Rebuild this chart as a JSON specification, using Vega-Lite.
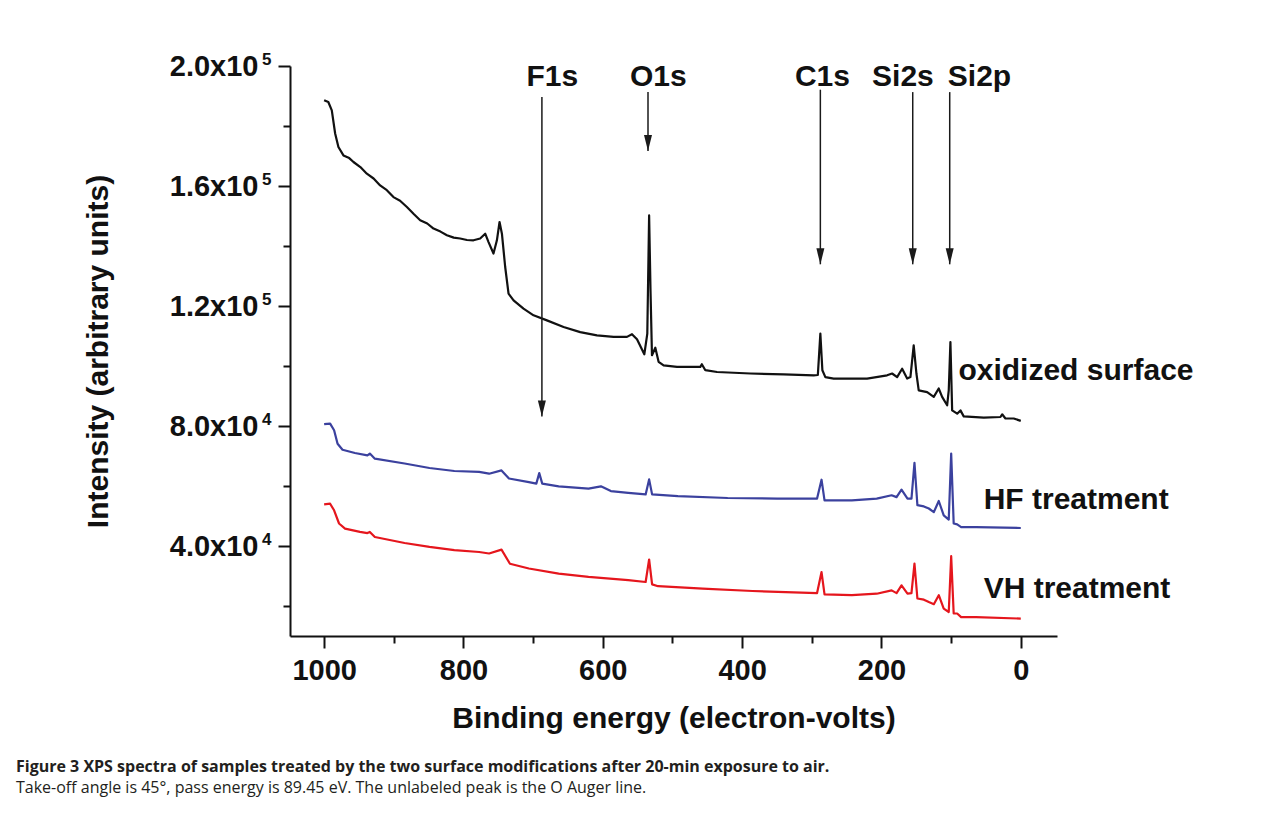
{
  "$schema": "https://vega.github.io/schema/vega-lite/v6.json",
  "width": 767,
  "height": 570,
  "autosize": {"type": "none"},
  "padding": {"left": 290, "top": 66, "right": 225, "bottom": 178},
  "background": "white",
  "config": {"view": {"stroke": null}, "font": "Liberation Sans"},
  "title": {
    "text": "Figure 3 XPS spectra of samples treated by the two surface modifications after 20-min exposure to air.",
    "subtitle": "Take-off angle is 45°, pass energy is 89.45 eV. The unlabeled peak is the O Auger line.",
    "orient": "bottom",
    "anchor": "start",
    "frame": "group",
    "dx": -274,
    "offset": 26,
    "font": "Open Sans",
    "fontSize": 16,
    "fontWeight": "bold",
    "color": "#231f20",
    "subtitleFont": "Open Sans",
    "subtitleFontSize": 16,
    "subtitleFontWeight": "normal",
    "subtitleColor": "#231f20",
    "subtitlePadding": 5
  },
  "datasets": {
    "spectra": [
      {"s":"ox","E":1000,"I":188600},{"s":"ox","E":994,"I":188000},{"s":"ox","E":989,"I":185200},{"s":"ox","E":984.2,"I":177500},{"s":"ox","E":979.5,"I":173000},{"s":"ox","E":972.3,"I":170200},{"s":"ox","E":964,"I":169300},{"s":"ox","E":957.9,"I":168000},{"s":"ox","E":948,"I":166300},{"s":"ox","E":938.7,"I":164100},{"s":"ox","E":929,"I":162500},{"s":"ox","E":919.6,"I":160200},{"s":"ox","E":910,"I":158600},{"s":"ox","E":900.5,"I":156300},{"s":"ox","E":891,"I":155100},{"s":"ox","E":881.2,"I":153000},{"s":"ox","E":871,"I":150600},{"s":"ox","E":862.1,"I":148600},{"s":"ox","E":852,"I":147500},{"s":"ox","E":843,"I":145800},{"s":"ox","E":833,"I":144800},{"s":"ox","E":823.8,"I":143600},{"s":"ox","E":814,"I":142800},{"s":"ox","E":804.7,"I":142500},{"s":"ox","E":795,"I":142000},{"s":"ox","E":785.6,"I":141900},{"s":"ox","E":776,"I":142500},{"s":"ox","E":768.8,"I":144100},{"s":"ox","E":764,"I":141300},{"s":"ox","E":756.9,"I":137500},{"s":"ox","E":752,"I":141900},{"s":"ox","E":748.2,"I":148000},{"s":"ox","E":744.8,"I":144100},{"s":"ox","E":740.1,"I":133000},{"s":"ox","E":735.3,"I":124100},{"s":"ox","E":728.1,"I":121900},{"s":"ox","E":713.8,"I":119100},{"s":"ox","E":699.4,"I":116900},{"s":"ox","E":680.2,"I":115200},{"s":"ox","E":656.3,"I":113000},{"s":"ox","E":632.4,"I":111300},{"s":"ox","E":608.4,"I":110200},{"s":"ox","E":584.5,"I":109700},{"s":"ox","E":565.3,"I":109700},{"s":"ox","E":558.1,"I":110600},{"s":"ox","E":550.9,"I":108900},{"s":"ox","E":540.4,"I":103900},{"s":"ox","E":536.1,"I":110800},{"s":"ox","E":533.5,"I":150200},{"s":"ox","E":531.5,"I":125200},{"s":"ox","E":529.4,"I":103600},{"s":"ox","E":524.6,"I":106100},{"s":"ox","E":519.9,"I":101400},{"s":"ox","E":512.7,"I":100200},{"s":"ox","E":493.5,"I":99700},{"s":"ox","E":460,"I":99700},{"s":"ox","E":457.8,"I":100600},{"s":"ox","E":452.8,"I":98600},{"s":"ox","E":436,"I":98000},{"s":"ox","E":388.2,"I":97500},{"s":"ox","E":340.4,"I":97200},{"s":"ox","E":297.3,"I":96900},{"s":"ox","E":291.3,"I":97000},{"s":"ox","E":287.7,"I":110800},{"s":"ox","E":284.8,"I":98600},{"s":"ox","E":280.5,"I":96300},{"s":"ox","E":268.6,"I":95800},{"s":"ox","E":220.6,"I":95800},{"s":"ox","E":191.9,"I":96900},{"s":"ox","E":184.7,"I":97500},{"s":"ox","E":177.5,"I":96300},{"s":"ox","E":170.3,"I":99100},{"s":"ox","E":163.1,"I":95800},{"s":"ox","E":158.4,"I":96300},{"s":"ox","E":153.7,"I":106900},{"s":"ox","E":149.8,"I":97500},{"s":"ox","E":146.5,"I":91900},{"s":"ox","E":134.4,"I":91300},{"s":"ox","E":124.9,"I":89700},{"s":"ox","E":117.8,"I":92500},{"s":"ox","E":112.9,"I":89700},{"s":"ox","E":105.7,"I":86900},{"s":"ox","E":103.4,"I":91900},{"s":"ox","E":101,"I":108000},{"s":"ox","E":98.5,"I":85200},{"s":"ox","E":91.3,"I":84100},{"s":"ox","E":86.6,"I":85200},{"s":"ox","E":81.9,"I":83200},{"s":"ox","E":53.1,"I":82800},{"s":"ox","E":29.2,"I":83000},{"s":"ox","E":26.7,"I":83900},{"s":"ox","E":22,"I":82500},{"s":"ox","E":10.1,"I":82500},{"s":"ox","E":0,"I":81700},
      {"s":"HF","E":1000,"I":80600},{"s":"HF","E":991.4,"I":80800},{"s":"HF","E":985.7,"I":78600},{"s":"HF","E":980.7,"I":74100},{"s":"HF","E":973.6,"I":72100},{"s":"HF","E":955.8,"I":71000},{"s":"HF","E":937.9,"I":70200},{"s":"HF","E":934.4,"I":70800},{"s":"HF","E":927.2,"I":69100},{"s":"HF","E":884.5,"I":67500},{"s":"HF","E":848.8,"I":66000},{"s":"HF","E":813.1,"I":65000},{"s":"HF","E":777.5,"I":64700},{"s":"HF","E":763.2,"I":64100},{"s":"HF","E":745.4,"I":65200},{"s":"HF","E":734.7,"I":62500},{"s":"HF","E":706.1,"I":61300},{"s":"HF","E":695.4,"I":60800},{"s":"HF","E":691.2,"I":64300},{"s":"HF","E":686.9,"I":60800},{"s":"HF","E":663.3,"I":59900},{"s":"HF","E":620.5,"I":59100},{"s":"HF","E":602.7,"I":59900},{"s":"HF","E":588.4,"I":58300},{"s":"HF","E":563.5,"I":57700},{"s":"HF","E":538.5,"I":57200},{"s":"HF","E":533.5,"I":62200},{"s":"HF","E":529.2,"I":57200},{"s":"HF","E":492.2,"I":56600},{"s":"HF","E":420.8,"I":56000},{"s":"HF","E":349.5,"I":55800},{"s":"HF","E":292.4,"I":55800},{"s":"HF","E":286,"I":62100},{"s":"HF","E":281.7,"I":55200},{"s":"HF","E":242.5,"I":55200},{"s":"HF","E":206.8,"I":55800},{"s":"HF","E":185.4,"I":56900},{"s":"HF","E":178.3,"I":56300},{"s":"HF","E":171.2,"I":58800},{"s":"HF","E":162.6,"I":55800},{"s":"HF","E":156.9,"I":55800},{"s":"HF","E":152.6,"I":67700},{"s":"HF","E":148.4,"I":53600},{"s":"HF","E":139.1,"I":53200},{"s":"HF","E":132,"I":52500},{"s":"HF","E":124.8,"I":51300},{"s":"HF","E":117.7,"I":55000},{"s":"HF","E":110.6,"I":50200},{"s":"HF","E":103.4,"I":48800},{"s":"HF","E":99.9,"I":70800},{"s":"HF","E":96.3,"I":47500},{"s":"HF","E":91.3,"I":47200},{"s":"HF","E":85.6,"I":46300},{"s":"HF","E":64.2,"I":46300},{"s":"HF","E":0,"I":46000},
      {"s":"VH","E":1000,"I":53900},{"s":"VH","E":991.4,"I":54100},{"s":"VH","E":985.7,"I":51900},{"s":"VH","E":978.6,"I":47500},{"s":"VH","E":970,"I":45800},{"s":"VH","E":948.6,"I":44700},{"s":"VH","E":937.9,"I":44300},{"s":"VH","E":934.4,"I":44700},{"s":"VH","E":927.2,"I":43000},{"s":"VH","E":884.5,"I":41000},{"s":"VH","E":848.8,"I":39700},{"s":"VH","E":813.1,"I":38600},{"s":"VH","E":777.5,"I":38000},{"s":"VH","E":763.2,"I":37500},{"s":"VH","E":745.4,"I":38800},{"s":"VH","E":733.3,"I":34100},{"s":"VH","E":706.1,"I":32500},{"s":"VH","E":663.3,"I":30800},{"s":"VH","E":620.5,"I":29700},{"s":"VH","E":563.5,"I":28600},{"s":"VH","E":538.5,"I":28000},{"s":"VH","E":533.5,"I":35500},{"s":"VH","E":529.2,"I":27200},{"s":"VH","E":520.6,"I":26600},{"s":"VH","E":456.5,"I":25800},{"s":"VH","E":385.2,"I":25000},{"s":"VH","E":292.4,"I":24300},{"s":"VH","E":286,"I":31300},{"s":"VH","E":281.7,"I":23900},{"s":"VH","E":242.5,"I":23600},{"s":"VH","E":206.8,"I":24100},{"s":"VH","E":185.4,"I":25200},{"s":"VH","E":178.3,"I":24300},{"s":"VH","E":171.2,"I":26900},{"s":"VH","E":162.6,"I":24100},{"s":"VH","E":156.9,"I":24300},{"s":"VH","E":152.6,"I":34100},{"s":"VH","E":148.4,"I":22500},{"s":"VH","E":139.1,"I":22100},{"s":"VH","E":132,"I":21300},{"s":"VH","E":124.8,"I":20600},{"s":"VH","E":117.7,"I":23600},{"s":"VH","E":110.6,"I":19100},{"s":"VH","E":103.4,"I":18000},{"s":"VH","E":99.9,"I":36600},{"s":"VH","E":96.3,"I":17500},{"s":"VH","E":91.3,"I":17500},{"s":"VH","E":85.6,"I":16300},{"s":"VH","E":64.2,"I":16300},{"s":"VH","E":0,"I":15800}
    ],
    "peaks": [
      {"lab":"F1s","E":687.4,"top":189700,"tip":83200,"lx":672.5,"ly":196200},
      {"lab":"O1s","E":535.1,"top":191300,"tip":171700,"lx":520.3,"ly":196200},
      {"lab":"C1s","E":287.7,"top":192100,"tip":133900,"lx":284.7,"ly":196200},
      {"lab":"Si2s","E":155.1,"top":191300,"tip":133900,"lx":169.2,"ly":196200},
      {"lab":"Si2p","E":102,"top":191300,"tip":133900,"lx":59.3,"ly":196200}
    ],
    "series": [
      {"name":"oxidized surface","E":89.5,"I":98200},
      {"name":"HF treatment","E":53.3,"I":55200},
      {"name":"VH treatment","E":53.3,"I":25600}
    ]
  },
  "resolve": {"axis": {"y": "independent"}},
  "layer": [
    {
      "data": {"name": "spectra"},
      "mark": {"type": "line", "strokeWidth": 2.2, "strokeJoin": "round"},
      "encoding": {
        "x": {
          "field": "E", "type": "quantitative",
          "scale": {"domain": [1049, -52], "nice": false, "zero": false},
          "axis": {
            "title": "Binding energy (electron-volts)",
            "values": [1000, 900, 800, 700, 600, 500, 400, 300, 200, 100, 0],
            "labelExpr": "datum.value % 200 === 0 ? datum.label : ''",
            "format": "d",
            "tickSize": {"condition": {"test": "datum.value % 200 === 0", "value": 12}, "value": 7},
            "grid": false,
            "domainColor": "#111111", "domainWidth": 2,
            "tickColor": "#111111", "tickWidth": 2,
            "labelFont": "Liberation Sans", "labelFontWeight": "bold", "labelFontSize": 29, "labelColor": "#111111",
            "labelPadding": 8, "labelOverlap": false, "labelFlush": false,
            "titleFont": "Liberation Sans", "titleFontWeight": "bold", "titleFontSize": 30, "titleColor": "#111111",
            "titlePadding": 18
          }
        },
        "y": {
          "field": "I", "type": "quantitative",
          "scale": {"domain": [10000, 200000], "nice": false, "zero": false},
          "axis": {
            "orient": "left",
            "title": "Intensity (arbitrary units)",
            "values": [20000, 40000, 60000, 80000, 100000, 120000, 140000, 160000, 180000, 200000],
            "labelExpr": "datum.value === 200000 ? '2.0x10' : datum.value === 160000 ? '1.6x10' : datum.value === 120000 ? '1.2x10' : datum.value === 80000 ? '8.0x10' : datum.value === 40000 ? '4.0x10' : ''",
            "tickSize": {"condition": {"test": "datum.value % 40000 === 0", "value": 12}, "value": 7},
            "grid": false,
            "domainColor": "#111111", "domainWidth": 2,
            "tickColor": "#111111", "tickWidth": 2,
            "labelFont": "Liberation Sans", "labelFontWeight": "bold", "labelFontSize": 29, "labelColor": "#111111",
            "labelPadding": 20, "labelOverlap": false, "labelFlush": false,
            "titleFont": "Liberation Sans", "titleFontWeight": "bold", "titleFontSize": 30, "titleColor": "#111111",
            "titlePadding": 56
          }
        },
        "color": {
          "field": "s", "type": "nominal", "legend": null,
          "scale": {"domain": ["ox", "HF", "VH"], "range": ["#111111", "#3b419e", "#e5161d"]}
        }
      }
    },
    {
      "data": {"name": "peaks"},
      "mark": {"type": "rule", "strokeWidth": 1.5, "color": "#1a1a1a"},
      "encoding": {
        "x": {"field": "E", "type": "quantitative"},
        "y": {
          "field": "top", "type": "quantitative",
          "axis": {
            "orient": "left",
            "title": null,
            "values": [40000, 80000, 120000, 160000, 200000],
            "labelExpr": "datum.value >= 120000 ? '5' : '4'",
            "ticks": false, "tickSize": 0, "domain": false, "grid": false,
            "labelFont": "Liberation Sans", "labelFontWeight": "bold", "labelFontSize": 17, "labelColor": "#111111",
            "labelPadding": 19, "labelOffset": -7, "labelOverlap": false, "labelFlush": false
          }
        },
        "y2": {"field": "tip"}
      }
    },
    {
      "data": {"name": "peaks"},
      "mark": {"type": "point", "shape": "M-0.5,-2L0.5,-2L0,0Z", "filled": true, "size": 256, "color": "#1a1a1a", "opacity": 1, "strokeWidth": 0},
      "encoding": {
        "x": {"field": "E", "type": "quantitative"},
        "y": {"field": "tip", "type": "quantitative", "axis": null}
      }
    },
    {
      "data": {"name": "peaks"},
      "mark": {"type": "text", "font": "Liberation Sans", "fontSize": 30, "fontWeight": "bold", "color": "#111111", "align": "center", "baseline": "middle"},
      "encoding": {
        "x": {"field": "lx", "type": "quantitative"},
        "y": {"field": "ly", "type": "quantitative", "axis": null},
        "text": {"field": "lab"}
      }
    },
    {
      "data": {"name": "series"},
      "mark": {"type": "text", "font": "Liberation Sans", "fontSize": 30, "fontWeight": "bold", "color": "#111111", "align": "left", "baseline": "middle"},
      "encoding": {
        "x": {"field": "E", "type": "quantitative"},
        "y": {"field": "I", "type": "quantitative", "axis": null},
        "text": {"field": "name"}
      }
    }
  ]
}
